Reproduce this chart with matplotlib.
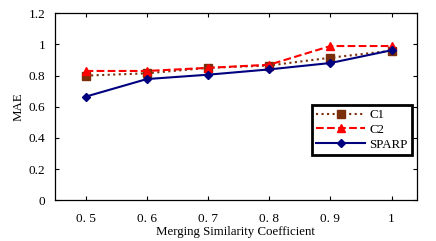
import matplotlib
matplotlib.use("Agg")
import matplotlib.pyplot as plt

x = [0.5, 0.6, 0.7, 0.8, 0.9, 1.0]
c1 = [0.80, 0.815, 0.85, 0.865, 0.915, 0.96]
c2 = [0.83, 0.83, 0.85, 0.87, 0.99, 0.99]
sparp = [0.665, 0.778, 0.806, 0.84, 0.881, 0.963]
xtick_labels = ["0. 5", "0. 6", "0. 7", "0. 8", "0. 9", "1"]
ytick_labels = ["0", "0.2", "0.4", "0.6", "0.8", "1", "1.2"]

plt.rcParams["font.family"] = "Liberation Serif"
plt.rcParams["font.size"] = 9.5

fig = plt.figure(figsize=(4.36, 2.41), dpi=100)
ax = fig.add_axes([55/436, 1 - 200.3/241, (416.7-55)/436, (200.3-13.3)/241])

ax.plot(x, c1, linestyle=":", color="#7a2e0a", linewidth=1.5, marker="s", markersize=6,
        markerfacecolor="#7a2e0a", markeredgecolor="#7a2e0a", label="C1")
ax.plot(x, c2, linestyle="--", color="#ff0000", linewidth=1.5, marker="^", markersize=6,
        label="C2")
ax.plot(x, sparp, linestyle="-", color="#00007f", linewidth=1.5, marker="D", markersize=4.5,
        label="SPARP")

ax.set_xlim(0.45, 1.041)
ax.set_ylim(0, 1.2)
ax.set_xticks(x)
ax.set_xticklabels(xtick_labels)
ax.set_yticks([0, 0.2, 0.4, 0.6, 0.8, 1.0, 1.2])
ax.set_yticklabels(ytick_labels)
ax.tick_params(direction="in", top=True, right=True, length=3, width=0.8, labelsize=9.5)
ax.tick_params(axis="x", pad=9)
ax.tick_params(axis="y", pad=7)
for s in ax.spines.values():
    s.set_linewidth(0.9)

ax.set_xlabel("Merging Similarity Coefficient", fontsize=9.3, labelpad=1)
ax.set_ylabel("MAE", fontsize=9.3, labelpad=3)

leg = ax.legend(loc="lower right", bbox_to_anchor=(0.987, 0.242), borderaxespad=0,
                fancybox=False, framealpha=1, edgecolor="black", fontsize=9.3,
                handlelength=3.8, borderpad=0.35, labelspacing=0.2, handletextpad=0.3)
leg.get_frame().set_linewidth(2)

fig.savefig("out.png", dpi=100)
